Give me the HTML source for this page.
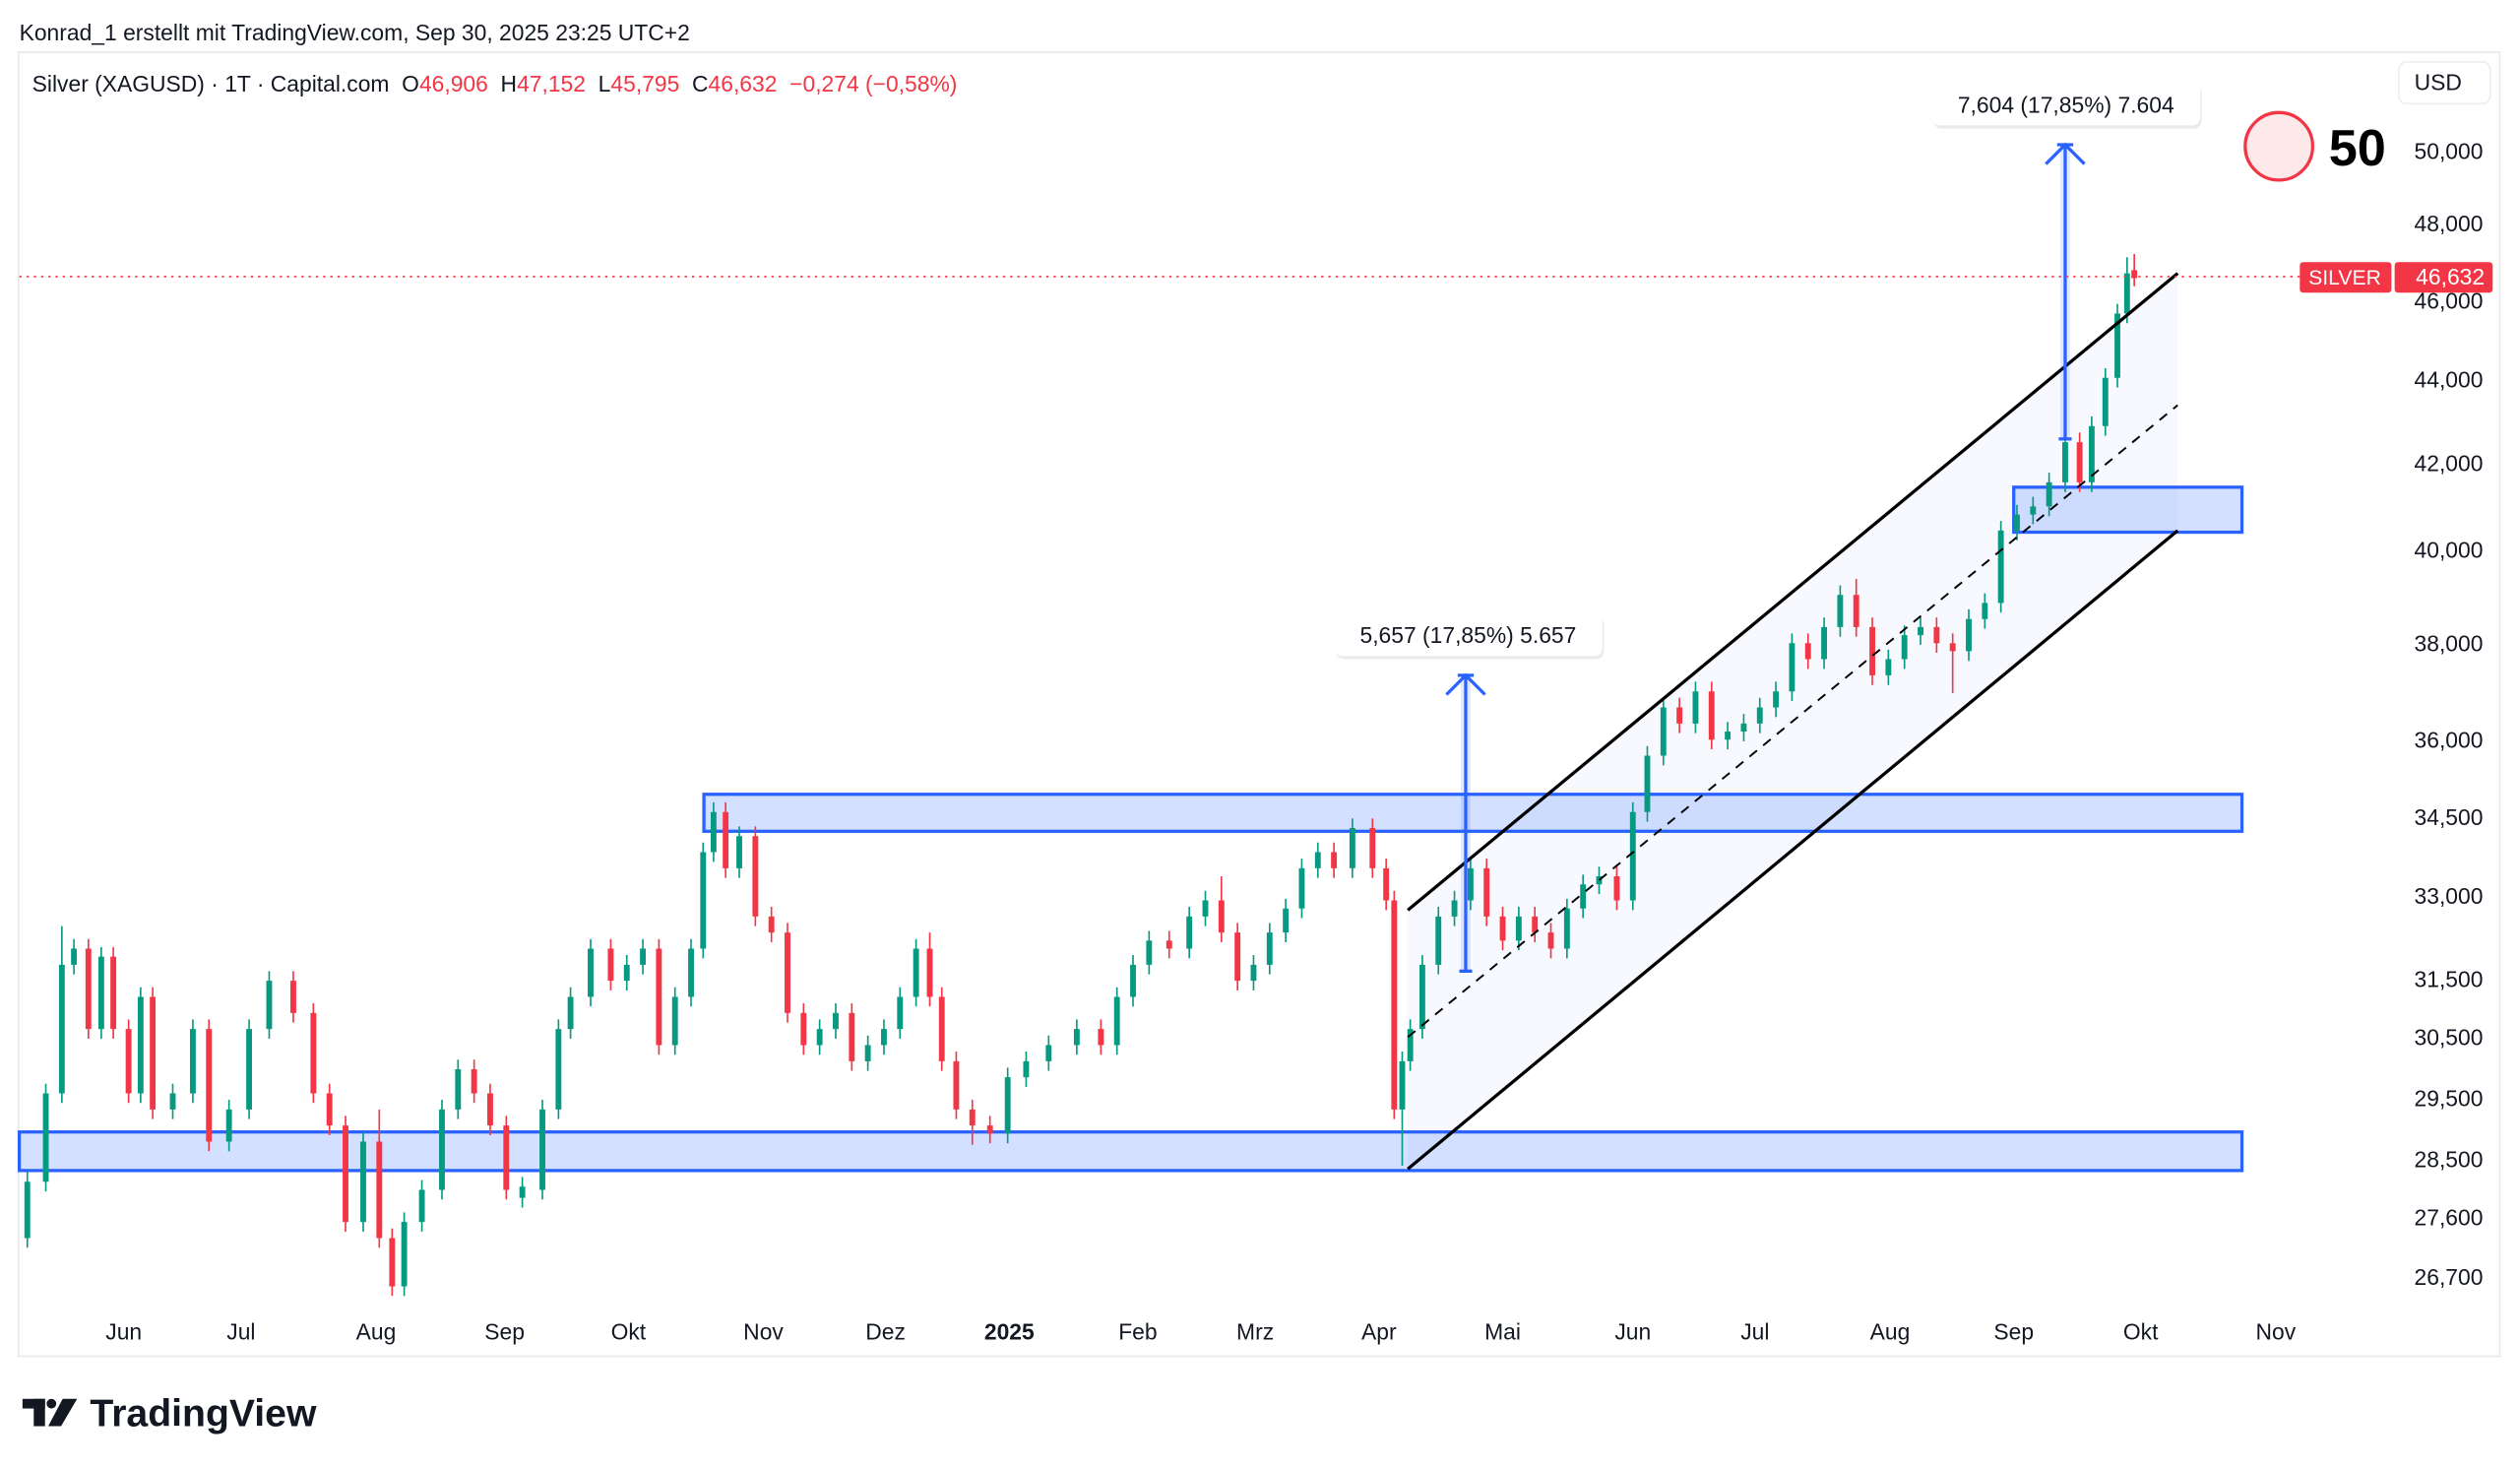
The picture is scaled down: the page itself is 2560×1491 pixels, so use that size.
<!DOCTYPE html>
<html><head><meta charset="utf-8"><style>
html,body{margin:0;padding:0;background:#fff;}
svg{display:block;}
text{font-family:"Liberation Sans",sans-serif;}
</style></head><body>
<svg width="2560" height="1491" viewBox="0 0 1568 913" preserveAspectRatio="none" xmlns="http://www.w3.org/2000/svg">
<rect x="0" y="0" width="1568" height="913" fill="#fff"/>
<text x="12" y="25" font-size="14" fill="#131722">Konrad_1 erstellt mit TradingView.com, Sep 30, 2025 23:25 UTC+2</text>
<rect x="11.5" y="32.5" width="1544" height="811" fill="#fff" stroke="#e8e9ec"/>
<text x="20" y="57" font-size="14" fill="#131722" xml:space="preserve">Silver (XAGUSD) · 1T · Capital.com  O<tspan fill="#f23645">46,906</tspan>  H<tspan fill="#f23645">47,152</tspan>  L<tspan fill="#f23645">45,795</tspan>  C<tspan fill="#f23645">46,632  −0,274 (−0,58%)</tspan></text>

<!-- channel fill & zones -->
<polygon points="876,566 1355,170 1355,330 876,727" fill="rgba(41,98,255,0.04)"/>
<rect x="12" y="704" width="1383" height="24" fill="rgba(41,98,255,0.2)" stroke="#2962ff" stroke-width="2"/>
<rect x="438" y="494" width="957" height="23" fill="rgba(41,98,255,0.2)" stroke="#2962ff" stroke-width="2"/>
<rect x="1253" y="303" width="142" height="28" fill="rgba(41,98,255,0.2)" stroke="#2962ff" stroke-width="2"/>

<!-- candles green -->
<path stroke="#089981" stroke-width="1" fill="none" d="M17 729V776M28.5 674V741M38.5 576V686M46 584V606M63 589V646M87.5 614V686M107.5 674V696M120 634V686M142.5 684V716M155 634V696M167.5 604V646M226 704V766M251.5 754V806M262.5 734V766M275 684V746M285 659V696M325 732V751M337.5 684V746M347.5 634V696M355 614V646M367.5 584V626M390 594V616M400 584V606M420 614V656M430 584V626M437.5 524V596M444 499V536M460 514V546M510 634V656M520 624V646M540 644V666M550 634V656M560 614V646M570 584V626M627 664V711M638.5 654V676M652.5 644V666M670 634V656M695 614V656M705 594V626M715 579V606M740 564V596M750 554V576M780 594V616M790 574V606M800 559V586M810 534V571M820 524V546M841.5 509V546M872.5 654V725M877.5 634V666M885 594V646M895 564V606M905 554V576M915 534V566M945 564V591M975 559V596M985 544V571M995 539V556M1016 499V566M1025 464V511M1035 434V476M1055 424V456M1075 449V466M1085 444V461M1095 434V456M1105 424V446M1115 394V436M1135 384V416M1145 364V396M1175 404V426M1185 389V416M1195 384V401M1225 379V411M1235 369V391M1245 324V381M1255 314V336M1265 309V326M1275 294V321M1285 269V306M1301.5 259V306M1310 229V271M1317.5 189V241M1323.5 160V201"/>
<path stroke="#089981" stroke-width="3.6" fill="none" d="M17 735V770M28.5 680V735M38.5 600V680M46 590V600M63 595V640M87.5 620V680M107.5 680V690M120 640V680M142.5 690V710M155 640V690M167.5 610V640M226 710V760M251.5 760V800M262.5 740V760M275 690V740M285 665V690M325 738V745M337.5 690V740M347.5 640V690M355 620V640M367.5 590V620M390 600V610M400 590V600M420 620V650M430 590V620M437.5 530V590M444 505V530M460 520V540M510 640V650M520 630V640M540 650V660M550 640V650M560 620V640M570 590V620M627 670V705M638.5 660V670M652.5 650V660M670 640V650M695 620V650M705 600V620M715 585V600M740 570V590M750 560V570M780 600V610M790 580V600M800 565V580M810 540V565M820 530V540M841.5 515V540M872.5 660V690M877.5 640V660M885 600V640M895 570V600M905 560V570M915 540V560M945 570V585M975 565V590M985 550V565M995 545V550M1016 505V560M1025 470V505M1035 440V470M1055 430V450M1075 455V460M1085 450V455M1095 440V450M1105 430V440M1115 400V430M1135 390V410M1145 370V390M1175 410V420M1185 395V410M1195 390V395M1225 385V405M1235 375V385M1245 330V375M1255 320V330M1265 315V320M1275 300V315M1285 275V300M1301.5 265V300M1310 235V265M1317.5 195V235M1323.5 170V195"/>
<!-- candles red -->
<path stroke="#f23645" stroke-width="1" fill="none" d="M55 584V646M70.5 589V646M80 634V686M95 614V696M130 634V716M182.5 604V636M195 624V686M205 674V706M215 694V766M236 690V776M244 764V806M295 659V686M305 674V706M315 694V746M380 584V616M410 584V656M451.5 499V546M470 514V576M480 564V586M490 574V636M500 624V656M530 624V666M578.5 580V626M586 614V666M595 654V696M605 684V712M616 694V711M685 634V656M727.5 579V596M760 545V586M770 574V616M830 524V546M854 509V546M862.5 534V566M867.5 554V696M925 534V576M935 564V591M955 564V586M965 574V596M1006 539V566M1045 434V456M1065 424V466M1125 394V416M1155 360V396M1165 384V426M1205 384V406M1215 394V431M1294 269V306M1328 158V178"/>
<path stroke="#f23645" stroke-width="3.6" fill="none" d="M55 590V640M70.5 595V640M80 640V680M95 620V690M130 640V710M182.5 610V630M195 630V680M205 680V700M215 700V760M236 710V770M244 770V800M295 665V680M305 680V700M315 700V740M380 590V610M410 590V650M451.5 505V540M470 520V570M480 570V580M490 580V630M500 630V650M530 630V660M578.5 590V620M586 620V660M595 660V690M605 690V700M616 700V705M685 640V650M727.5 585V590M760 560V580M770 580V610M830 530V540M854 515V540M862.5 540V560M867.5 560V690M925 540V570M935 570V585M955 570V580M965 580V590M1006 545V560M1045 440V450M1065 430V460M1125 400V410M1155 370V390M1165 390V420M1205 390V400M1215 400V405M1294 275V300M1328 168V173"/>

<!-- channel lines -->
<line x1="876" y1="566" x2="1355" y2="170" stroke="#000" stroke-width="2"/>
<line x1="876" y1="727" x2="1355" y2="330" stroke="#000" stroke-width="2"/>
<line x1="876" y1="645" x2="1355" y2="252" stroke="#000" stroke-width="1.2" stroke-dasharray="6,5"/>

<!-- arrows -->
<rect x="909" y="420" width="6" height="184" fill="rgba(41,98,255,0.15)"/>
<line x1="912" y1="604" x2="912" y2="420" stroke="#2962ff" stroke-width="2"/>
<line x1="908" y1="604" x2="916" y2="604" stroke="#2962ff" stroke-width="2"/>
<polyline points="900,432 912,420 924,432" fill="none" stroke="#2962ff" stroke-width="2"/>
<line x1="907" y1="420" x2="917" y2="420" stroke="#2962ff" stroke-width="2"/>
<rect x="1282" y="90" width="6" height="183" fill="rgba(41,98,255,0.15)"/>
<line x1="1285" y1="273" x2="1285" y2="90" stroke="#2962ff" stroke-width="2"/>
<line x1="1281" y1="273" x2="1289" y2="273" stroke="#2962ff" stroke-width="2"/>
<polyline points="1273,102 1285,90 1297,102" fill="none" stroke="#2962ff" stroke-width="2"/>
<line x1="1280" y1="90" x2="1290" y2="90" stroke="#2962ff" stroke-width="2"/>

<rect x="831" y="383" width="167" height="27" rx="5" fill="rgba(0,0,0,0.08)"/>
<rect x="830" y="381" width="167" height="27" rx="5" fill="#fff"/>
<text x="913.5" y="400" font-size="14" fill="#131722" text-anchor="middle">5,657 (17,85%) 5.657</text>
<rect x="1203" y="53" width="167" height="27" rx="5" fill="rgba(0,0,0,0.08)"/>
<rect x="1202" y="51" width="167" height="27" rx="5" fill="#fff"/>
<text x="1285.5" y="70" font-size="14" fill="#131722" text-anchor="middle">7,604 (17,85%) 7.604</text>

<!-- price axis -->
<g font-size="14" fill="#131722" text-anchor="end">
<text x="1545" y="99">50,000</text>
<text x="1545" y="144">48,000</text>
<text x="1545" y="192">46,000</text>
<text x="1545" y="241">44,000</text>
<text x="1545" y="293">42,000</text>
<text x="1545" y="347">40,000</text>
<text x="1545" y="405">38,000</text>
<text x="1545" y="465">36,000</text>
<text x="1545" y="513">34,500</text>
<text x="1545" y="562">33,000</text>
<text x="1545" y="614">31,500</text>
<text x="1545" y="650">30,500</text>
<text x="1545" y="688">29,500</text>
<text x="1545" y="726">28,500</text>
<text x="1545" y="762">27,600</text>
<text x="1545" y="799">26,700</text>
</g>
<!-- time axis -->
<g font-size="14" fill="#131722" text-anchor="middle">
<text x="77" y="833">Jun</text><text x="150" y="833">Jul</text><text x="234" y="833">Aug</text><text x="314" y="833">Sep</text><text x="391" y="833">Okt</text><text x="475" y="833">Nov</text><text x="551" y="833">Dez</text><text x="628" y="833" font-weight="bold">2025</text><text x="708" y="833">Feb</text><text x="781" y="833">Mrz</text><text x="858" y="833">Apr</text><text x="935" y="833">Mai</text><text x="1016" y="833">Jun</text><text x="1092" y="833">Jul</text><text x="1176" y="833">Aug</text><text x="1253" y="833">Sep</text><text x="1332" y="833">Okt</text><text x="1416" y="833">Nov</text>
</g>

<rect x="1492.5" y="38.5" width="57" height="26" rx="5" fill="#fff" stroke="#eee"/>
<text x="1517" y="56" font-size="14" fill="#131722" text-anchor="middle">USD</text>
<line x1="12" y1="172" x2="1432" y2="172" stroke="#f23645" stroke-dasharray="1.5,3" stroke-width="1"/>
<rect x="1431" y="163" width="57" height="19" rx="2" fill="#f23645"/>
<text x="1459" y="177" font-size="13" fill="#fff" text-anchor="middle">SILVER</text>
<rect x="1490" y="163" width="61" height="19" rx="2" fill="#f23645"/>
<text x="1546" y="177" font-size="14" fill="#fff" text-anchor="end">46,632</text>
<circle cx="1418" cy="91" r="21" fill="#fde8ea" stroke="#f23645" stroke-width="2"/>
<text x="1449" y="103" font-size="32" font-weight="bold" fill="#000">50</text>
<g transform="translate(14,867)" fill="#131722">
<rect x="0" y="3" width="14" height="6"/><rect x="7" y="3" width="7" height="17"/>
<circle cx="18" cy="6" r="3"/><polygon points="25,3 34,3 24,20 16,20"/>
</g>
<text x="56" y="887" font-size="24" font-weight="bold" fill="#131722">TradingView</text>
</svg>
</body></html>
